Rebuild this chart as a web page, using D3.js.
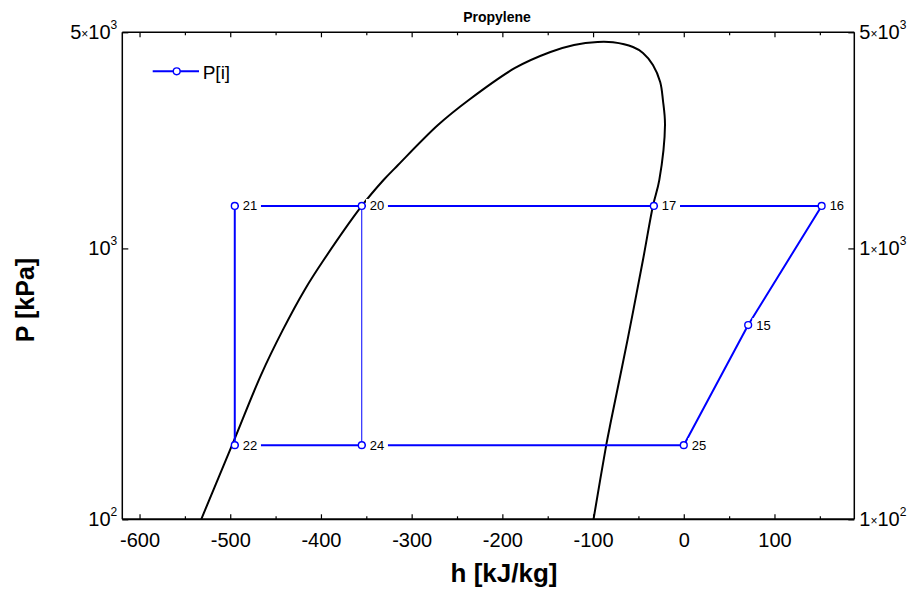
<!DOCTYPE html>
<html>
<head>
<meta charset="utf-8">
<script src="https://cdn.jsdelivr.net/npm/d3@7"></script>
<style>
  html, body { margin: 0; padding: 0; background: #fff; }
  svg { display: block; font-family: Arial, "Liberation Sans", sans-serif; }
</style>
</head>
<body>
<svg id="chart" width="914" height="592"></svg>
<script>
// Saturation dome of propylene (h in kJ/kg, P in kPa): liquid side, critical region, vapour side
const domeH = [-532, -498, -466, -442, -418, -397, -355, -331, -315, -271, -237, -186, -147, -121, -95,
               -78, -56, -45, -34, -26, -23, -20.7, -27, -34, -45, -62, -80, -85.5, -99.5];
const domeP = [133, 231, 390, 545, 734, 917, 1372, 1664, 1861, 2506, 3020, 3833, 4317, 4549, 4652,
               4640, 4481, 4286, 3919, 3452, 3020, 2506, 1663, 1372, 917, 506, 279, 231, 133];

// Cycle state points
const stateIds = [15, 16, 17, 20, 21, 22, 24, 25];
const stateH   = [71, 152, -33, -355, -495, -495, -355, 0];
const stateP   = [565, 1372, 1372, 1372, 1372, 231, 231, 231];

// Order in which the states are joined, plus the thin throttling line
const loopOrder  = [25, 15, 16, 17, 20, 21, 22, 24, 25];
const valveOrder = [20, 24];

// Axes
const hDomain = [-619, 188];
const pDomain = [133, 5000];
const hMajorTicks = [-600, -500, -400, -300, -200, -100, 0, 100];
const hMinorTicks = [-550, -450, -350, -250, -150, -50, 50, 150];
const pTicks = [133, 1000, 5000];

const chartTitle = "Propylene";
const xTitle = "h [kJ/kg]";
const yTitle = "P [kPa]";
const legendLabel = "P[i]";

const plot = { left: 122.3, right: 854.3, top: 32.3, bottom: 519.3 };
const blue = "#0000ff";

const svg = d3.select("#chart");

const x = d3.scaleLinear().domain(hDomain).range([plot.left, plot.right]);
const y = d3.scaleLog().domain(pDomain).range([plot.bottom, plot.top]);

// clip region for the data
svg.append("defs").append("clipPath").attr("id", "plotClip")
  .append("rect")
  .attr("x", plot.left).attr("y", plot.top)
  .attr("width", plot.right - plot.left).attr("height", plot.bottom - plot.top);

// ---- axes (ticks point inward) ----
function styleAxis(g) {
  g.select(".domain").remove();
  g.selectAll(".tick line").attr("stroke", "#000").attr("stroke-width", 1.2);
}

const xb = svg.append("g").attr("transform", `translate(0,${plot.bottom})`)
  .call(d3.axisBottom(x).tickValues(hMajorTicks).tickSize(-5).tickPadding(14).tickFormat(d3.format("d")));
styleAxis(xb);
xb.selectAll(".tick text").attr("font-size", 20).attr("fill", "#000")
  .attr("font-family", "Arial, 'Liberation Sans', sans-serif")
  .text(d => d < 0 ? "-" + Math.abs(d) : String(d));

const xbm = svg.append("g").attr("transform", `translate(0,${plot.bottom})`)
  .call(d3.axisBottom(x).tickValues(hMinorTicks.filter(v => v < hDomain[1])).tickSize(-3).tickFormat(""));
styleAxis(xbm);

const xt = svg.append("g").attr("transform", `translate(0,${plot.top})`)
  .call(d3.axisTop(x).tickValues(hMajorTicks).tickSize(-5).tickFormat(""));
styleAxis(xt);
const xtm = svg.append("g").attr("transform", `translate(0,${plot.top})`)
  .call(d3.axisTop(x).tickValues(hMinorTicks.filter(v => v < hDomain[1])).tickSize(-3).tickFormat(""));
styleAxis(xtm);

// scientific label pieces: mantissa and exponent rounded to one digit
function sci(v) {
  let e = Math.floor(Math.log10(v));
  let m = Math.round(v / Math.pow(10, e));
  if (m >= 10) { m = 1; e += 1; }
  return { m, e };
}
function writeSci(textSel, v, alwaysMantissa) {
  const { m, e } = sci(v);
  if (alwaysMantissa || m !== 1) {
    textSel.append("tspan").attr("font-size", 20).text(String(m));
    textSel.append("tspan").attr("font-size", 12).attr("dy", -1).text("×");
    textSel.append("tspan").attr("font-size", 20).attr("dy", 1).text("10");
  } else {
    textSel.append("tspan").attr("font-size", 20).text("10");
  }
  textSel.append("tspan").attr("font-size", 12).attr("dy", -10).text(String(e));
}

const yl = svg.append("g").attr("transform", `translate(${plot.left},0)`)
  .call(d3.axisLeft(y).tickValues(pTicks).tickSize(-6).tickFormat(""));
styleAxis(yl);
yl.selectAll(".tick").each(function (d) {
  const t = d3.select(this).append("text")
    .attr("x", -5).attr("y", 6).attr("text-anchor", "end").attr("fill", "#000");
  writeSci(t, d, false);
});

const yr = svg.append("g").attr("transform", `translate(${plot.right},0)`)
  .call(d3.axisRight(y).tickValues(pTicks).tickSize(-6).tickFormat(""));
styleAxis(yr);
yr.selectAll(".tick").each(function (d) {
  const t = d3.select(this).append("text")
    .attr("x", 5).attr("y", 6).attr("text-anchor", "start").attr("fill", "#000");
  writeSci(t, d, true);
});

// ---- data layer ----
const dataG = svg.append("g").attr("clip-path", "url(#plotClip)");

const dome = domeH.map((h, i) => [h, domeP[i]]);
dataG.append("path")
  .attr("d", d3.line().curve(d3.curveCatmullRom.alpha(0.5)).x(d => x(d[0])).y(d => y(d[1]))(dome))
  .attr("fill", "none").attr("stroke", "#000").attr("stroke-width", 2)
  .attr("stroke-linejoin", "round");

const stateById = new Map(stateIds.map((id, i) => [id, { id, h: stateH[i], p: stateP[i] }]));
const stateLine = d3.line().x(d => x(d.h)).y(d => y(d.p));

dataG.append("path")
  .attr("d", stateLine(loopOrder.map(id => stateById.get(id))))
  .attr("fill", "none").attr("stroke", blue).attr("stroke-width", 2)
  .attr("stroke-linejoin", "round");

dataG.append("path")
  .attr("d", stateLine(valveOrder.map(id => stateById.get(id))))
  .attr("fill", "none").attr("stroke", blue).attr("stroke-width", 1);

// state labels on white boxes
const states = stateIds.map(id => stateById.get(id));
const labelG = svg.append("g");
states.forEach(s => {
  const cx = x(s.h), cy = y(s.p);
  const g = labelG.append("g");
  const rect = g.append("rect").attr("fill", "#fff");
  const t = g.append("text")
    .attr("x", cx + 8).attr("y", cy + 4.5)
    .attr("font-size", 13).attr("fill", "#000")
    .text(String(s.id));
  const bb = t.node().getBBox();
  rect.attr("x", cx + 4.2).attr("y", cy - 7)
    .attr("width", bb.width + 7.5).attr("height", 14);
});

svg.append("g").selectAll("circle").data(states).join("circle")
  .attr("cx", d => x(d.h)).attr("cy", d => y(d.p)).attr("r", 3.4)
  .attr("fill", "#fff").attr("stroke", blue).attr("stroke-width", 1.4);

// ---- frame ----
svg.append("line").attr("x1", plot.left).attr("x2", plot.right)
  .attr("y1", plot.top).attr("y2", plot.top).attr("stroke", "#000").attr("stroke-width", 1.5);
svg.append("line").attr("x1", plot.left).attr("x2", plot.right)
  .attr("y1", plot.bottom).attr("y2", plot.bottom).attr("stroke", "#000").attr("stroke-width", 2);
svg.append("line").attr("x1", plot.left).attr("x2", plot.left)
  .attr("y1", plot.top).attr("y2", plot.bottom).attr("stroke", "#000").attr("stroke-width", 1.5);
svg.append("line").attr("x1", plot.right).attr("x2", plot.right)
  .attr("y1", plot.top).attr("y2", plot.bottom).attr("stroke", "#000").attr("stroke-width", 1.5);

// ---- legend ----
const leg = svg.append("g").attr("transform", "translate(152.7,71.3)");
leg.append("line").attr("x1", 0).attr("x2", 46.3).attr("y1", 0).attr("y2", 0)
  .attr("stroke", blue).attr("stroke-width", 2);
leg.append("circle").attr("cx", 24).attr("cy", 0).attr("r", 3.4)
  .attr("fill", "#fff").attr("stroke", blue).attr("stroke-width", 1.4);
leg.append("text").attr("x", 50).attr("y", 7.7).attr("font-size", 19).attr("fill", "#000")
  .text(legendLabel);

// ---- titles ----
svg.append("text").attr("x", 497).attr("y", 22).attr("text-anchor", "middle")
  .attr("font-size", 14).attr("font-weight", "bold").text(chartTitle);

svg.append("text").attr("x", 504).attr("y", 582)
  .attr("text-anchor", "middle").attr("font-size", 26).attr("font-weight", "bold")
  .text(xTitle);

svg.append("text").attr("transform", "translate(34,300) rotate(-90)")
  .attr("text-anchor", "middle").attr("font-size", 25).attr("font-weight", "bold")
  .text(yTitle);
</script>
</body>
</html>
